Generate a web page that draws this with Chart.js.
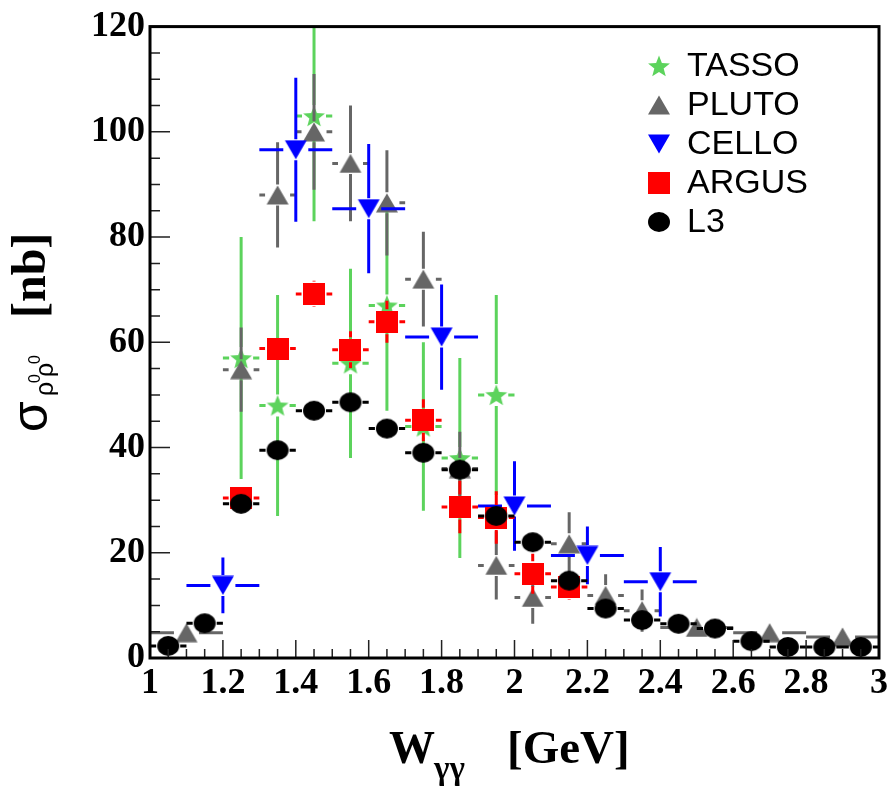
<!DOCTYPE html>
<html>
<head>
<meta charset="utf-8">
<script src="https://cdn.jsdelivr.net/npm/chart.js@4"></script>
<style>
  body { margin: 0; background: #fff; }
  canvas { display: block; }
</style>
</head>
<body>
<canvas id="myChart" width="892" height="786"></canvas>
<script>
// values (W in GeV, sigma in nb)
const tassoX = [1.25, 1.35, 1.45, 1.55, 1.65, 1.75, 1.85, 1.95];
const tassoY = [57, 48, 103, 56, 67, 44, 38, 50];
const tassoErr = [23, 21, 20, 18, 20, 16, 19, 19];

const plutoX = [1.1, 1.25, 1.35, 1.45, 1.55, 1.65, 1.75, 1.85, 1.95, 2.05, 2.15, 2.25, 2.35, 2.5, 2.7, 2.9];
const plutoY = [4.8, 54.8, 88, 100, 94, 86.5, 72, 36, 17.6, 11.5, 21.7, 11.9, 9, 5.8, 4.8, 4];
const plutoErr = [1, 8, 10, 11, 11, 10, 9, 7, 6.5, 5, 6, 4, 4, 1, 1, 1];
const plutoBin = [0.1, 0.05, 0.05, 0.05, 0.05, 0.05, 0.05, 0.05, 0.05, 0.05, 0.05, 0.05, 0.05, 0.1, 0.1, 0.1];

const celloX = [1.2, 1.4, 1.6, 1.8, 2.0, 2.2, 2.4];
const celloY = [13.8, 96.6, 85.4, 61, 28.9, 19.5, 14.5];
const celloErr = [5.3, 13.7, 12.3, 10, 8.5, 5.5, 6.6];

const argusX = [1.25, 1.35, 1.45, 1.55, 1.65, 1.75, 1.85, 1.95, 2.05, 2.15];
const argusY = [30.4, 58.8, 69.2, 58.6, 63.9, 45.2, 28.7, 26.7, 16, 13.5];
const argusErr = [1.5, 2.3, 2.5, 3.5, 4, 4, 5, 5, 3.8, 2.5];

const l3X = [1.05, 1.15, 1.25, 1.35, 1.45, 1.55, 1.65, 1.75, 1.85, 1.95, 2.05, 2.15, 2.25, 2.35, 2.45, 2.55, 2.65, 2.75, 2.85, 2.95];
const l3Y = [2.3, 6.6, 29.3, 39.5, 47, 48.6, 43.6, 39, 35.8, 27, 22, 14.7, 9.4, 7.2, 6.5, 5.6, 3.2, 2.1, 2.1, 2.1];
const l3Err = [0.5, 1, 1.5, 1.5, 1.5, 1.5, 1.5, 1.5, 1.5, 1.5, 1.2, 1, 1, 1, 1, 0.8, 0.6, 0.5, 0.5, 0.5];

const xTickValues = [1, 1.2, 1.4, 1.6, 1.8, 2, 2.2, 2.4, 2.6, 2.8, 3];
const yTickValues = [0, 20, 40, 60, 80, 100, 120];

const legendNames = ['TASSO', 'PLUTO', 'CELLO', 'ARGUS', 'L3'];

const GREEN = '#5cd35c', GRAY = '#666666', BLUE = '#0000ff', RED = '#ff0000', BLACK = '#000000';

// marker images
function marker(kind, color) {
  const c = document.createElement('canvas');
  const g = c.getContext('2d');
  if (kind === 'star') {
    c.width = 24; c.height = 24;
    g.beginPath();
    for (let k = 0; k < 10; k++) {
      const r = k % 2 === 0 ? 11.5 : 4.9;
      const a = -Math.PI / 2 + k * Math.PI / 5;
      const px = 12 + r * Math.cos(a), py = 13 + r * Math.sin(a);
      k === 0 ? g.moveTo(px, py) : g.lineTo(px, py);
    }
    g.closePath();
  } else if (kind === 'up') {
    c.width = 24; c.height = 20;
    g.beginPath(); g.moveTo(12, 0.5); g.lineTo(23, 19.5); g.lineTo(1, 19.5); g.closePath();
  } else if (kind === 'down') {
    c.width = 24; c.height = 20;
    g.beginPath(); g.moveTo(1, 0.5); g.lineTo(23, 0.5); g.lineTo(12, 19.5); g.closePath();
  } else if (kind === 'square') {
    c.width = 22; c.height = 22;
    g.beginPath(); g.rect(0, 0, 22, 22);
  } else {
    c.width = 24; c.height = 22;
    g.beginPath(); g.ellipse(12, 11, 11, 10, 0, 0, Math.PI * 2);
  }
  g.fillStyle = color;
  g.fill();
  return c;
}

const markers = [marker('star', GREEN), marker('up', GRAY), marker('down', BLUE), marker('square', RED), marker('circle', BLACK)];

function pts(xs, ys) { return xs.map((x, i) => ({ x: x, y: ys[i] })); }
function fill(n, v) { return new Array(n).fill(v); }

const datasets = [
  { label: 'TASSO', data: pts(tassoX, tassoY), yErr: tassoErr, xErr: fill(tassoX.length, 0.05), col: GREEN, gapX: 12, gapY: 11, order: 4 },
  { label: 'PLUTO', data: pts(plutoX, plutoY), yErr: plutoErr, xErr: plutoBin, col: GRAY, gapX: 12.5, gapY: 10.5, order: 3 },
  { label: 'CELLO', data: pts(celloX, celloY), yErr: celloErr, xErr: fill(celloX.length, 0.1), col: BLUE, gapX: 12.5, gapY: 10.5, order: 2 },
  { label: 'ARGUS', data: pts(argusX, argusY), yErr: argusErr, xErr: fill(argusX.length, 0.05), col: RED, gapX: 12.5, gapY: 12.5, order: 1 },
  { label: 'L3', data: pts(l3X, l3Y), yErr: l3Err, xErr: fill(l3X.length, 0.05), col: BLACK, gapX: 12, gapY: 11, order: 0 }
];
datasets.forEach((d, i) => { d.pointStyle = markers[i]; d.pointRadius = 10; d.showLine = false; });

// error bars under each series' markers
const errorBars = {
  id: 'errorBars',
  beforeDatasetDraw(chart, args) {
    const ds = chart.data.datasets[args.index];
    const ctx = chart.ctx, a = chart.chartArea;
    const xs = chart.scales.x, ys = chart.scales.y;
    ctx.save();
    ctx.beginPath(); ctx.rect(a.left, a.top, a.right - a.left, a.bottom - a.top); ctx.clip();
    ctx.strokeStyle = ds.col; ctx.lineWidth = 3;
    ctx.beginPath();
    ds.data.forEach((p, i) => {
      const px = xs.getPixelForValue(p.x), py = ys.getPixelForValue(p.y);
      const xl = xs.getPixelForValue(p.x - ds.xErr[i]), xr = xs.getPixelForValue(p.x + ds.xErr[i]);
      const yt = ys.getPixelForValue(p.y + ds.yErr[i]), yb = ys.getPixelForValue(p.y - ds.yErr[i]);
      if (xl < px - ds.gapX) { ctx.moveTo(xl, py); ctx.lineTo(px - ds.gapX, py); ctx.moveTo(px + ds.gapX, py); ctx.lineTo(xr, py); }
      if (yt < py - ds.gapY) { ctx.moveTo(px, yt); ctx.lineTo(px, py - ds.gapY); ctx.moveTo(px, py + ds.gapY); ctx.lineTo(px, yb); }
    });
    ctx.stroke();
    ctx.restore();
  }
};

// frame, inward ticks, axis titles, legend
const decorations = {
  id: 'decorations',
  afterDraw(chart) {
    const ctx = chart.ctx, a = chart.chartArea;
    const xs = chart.scales.x, ys = chart.scales.y;
    ctx.save();
    ctx.strokeStyle = '#222'; ctx.lineWidth = 1.5;
    ctx.beginPath();
    for (let k = 0; k <= 24; k++) {
      const v = k * 5, py = ys.getPixelForValue(v);
      const len = v % 20 === 0 ? 20 : 10;
      ctx.moveTo(a.left, py); ctx.lineTo(a.left + len, py);
    }
    for (let k = 0; k <= 40; k++) {
      const v = 1 + k * 0.05, px = xs.getPixelForValue(v);
      const len = k % 4 === 0 ? 18 : 9;
      ctx.moveTo(px, a.bottom); ctx.lineTo(px, a.bottom - len);
    }
    ctx.stroke();
    ctx.strokeStyle = '#000'; ctx.lineWidth = 3;
    ctx.strokeRect(a.left, a.top, a.right - a.left, a.bottom - a.top);

    ctx.fillStyle = '#000';
    ctx.textBaseline = 'alphabetic';
    // x title
    ctx.font = 'bold 46px "Liberation Serif"';
    ctx.fillText('W', 389, 763);
    ctx.font = 'bold 33px "Liberation Serif"';
    ctx.fillText('γγ', 434, 779);
    ctx.font = 'bold 47px "Liberation Serif"';
    ctx.fillText('[GeV]', 507, 763);

    // y title
    ctx.save();
    ctx.translate(47, 432);
    ctx.rotate(-Math.PI / 2);
    ctx.font = '50px "Liberation Sans"';
    ctx.fillText('σ', 0, 0);
    ctx.font = '25px "Liberation Sans"';
    ctx.fillText('ρ', 36, 6);
    ctx.fillText('ρ', 55, 6);
    ctx.font = '16px "Liberation Sans"';
    ctx.fillText('0', 49, -7);
    ctx.fillText('0', 68, -7);
    ctx.font = 'bold 48px "Liberation Serif"';
    ctx.fillText('[nb]', 114, -2);
    ctx.restore();

    // legend
    ctx.font = '34px "Liberation Sans"';
    legendNames.forEach((name, i) => {
      const cy = 66 + i * 39;
      const m = markers[i];
      ctx.drawImage(m, 659 - m.width / 2, cy - m.height / 2);
      ctx.fillText(name, 687, cy + 10);
    });
    ctx.restore();
  }
};

new Chart(document.getElementById('myChart'), {
  type: 'scatter',
  data: { datasets: datasets },
  options: {
    responsive: false,
    animation: false,
    events: [],
    layout: { padding: { top: 24, right: 13, bottom: 0, left: 0 } },
    plugins: { legend: { display: false }, tooltip: { enabled: false } },
    scales: {
      x: {
        type: 'linear', min: 1, max: 3,
        grid: { display: false, drawTicks: false },
        border: { display: false },
        afterBuildTicks: s => { s.ticks = xTickValues.map(v => ({ value: v })); },
        afterFit: s => { s.height = 128; },
        ticks: {
          autoSkip: false, maxRotation: 0, minRotation: 0, padding: 4, color: '#000',
          font: { family: 'Liberation Serif', weight: 'bold', size: 36 },
          callback: v => String(v)
        }
      },
      y: {
        type: 'linear', min: 0, max: 120,
        grid: { display: false, drawTicks: false },
        border: { display: false },
        afterBuildTicks: s => { s.ticks = yTickValues.map(v => ({ value: v })); },
        afterFit: s => { s.width = 150; },
        ticks: {
          autoSkip: false, padding: 5, color: '#000',
          font: { family: 'Liberation Serif', weight: 'bold', size: 36 },
          callback: v => String(v)
        }
      }
    }
  },
  plugins: [errorBars, decorations]
});
</script>
</body>
</html>
